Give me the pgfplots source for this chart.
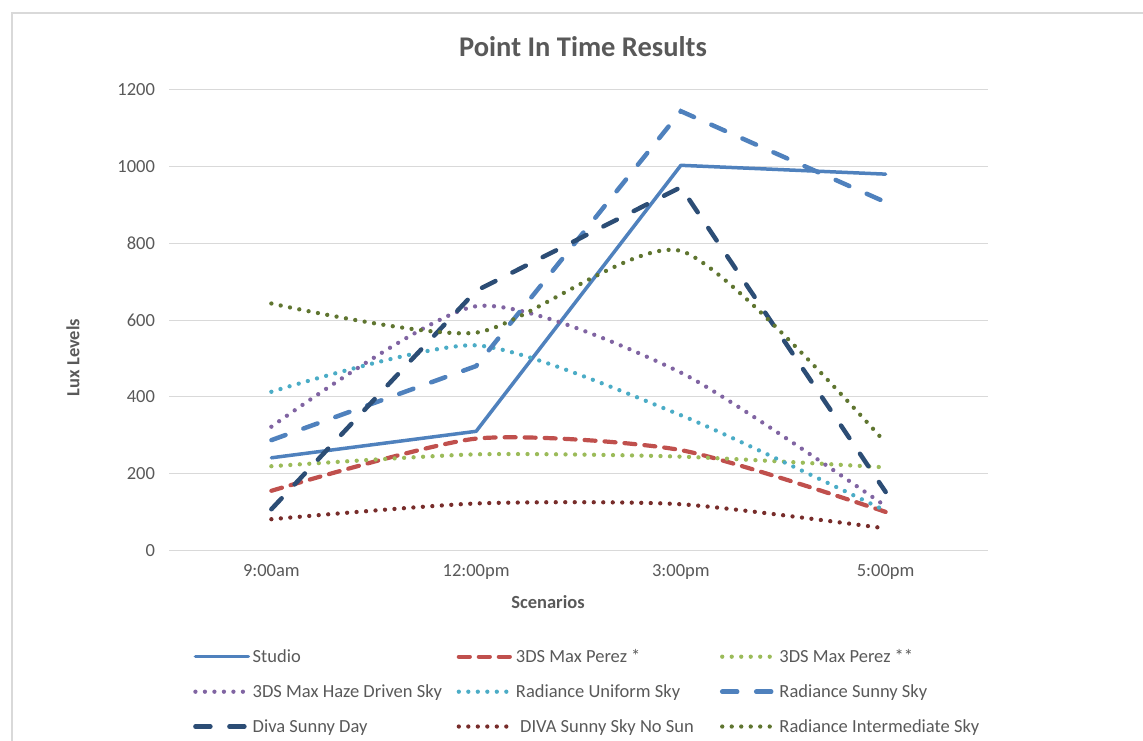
\documentclass[border=0pt]{standalone}
\usepackage{pgfplots}
\pgfplotsset{compat=1.18}
\usepackage{fontspec}
\setmainfont{Carlito}
\definecolor{cStudio}{HTML}{4F81BD}
\definecolor{cPerezA}{HTML}{C0504D}
\definecolor{cPerezB}{HTML}{9BBB59}
\definecolor{cHaze}{HTML}{8064A2}
\definecolor{cUniform}{HTML}{4BACC6}
\definecolor{cRadSunny}{HTML}{4F81BD}
\definecolor{cDiva}{HTML}{2C4D75}
\definecolor{cNoSun}{HTML}{772C2A}
\definecolor{cInter}{HTML}{5F7530}
\definecolor{gridgray}{HTML}{D9D9D9}
\definecolor{labgray}{HTML}{595959}
\tikzset{
  solidline/.style={line width=3.5pt, line cap=round, line join=round},
  dashline/.style={line width=4.2pt, line cap=round, dash pattern=on 11pt off 9pt},
  longdash/.style={line width=4.5pt, line cap=round, dash pattern=on 15pt off 19pt},
  dotline/.style={line width=4.3pt, line cap=round, dash pattern=on 0pt off 9.5pt},
}
\begin{document}
\begin{tikzpicture}
\path[use as bounding box] (0pt,0pt) rectangle (1143pt,740pt);
\draw[color=gridgray, line width=1.3pt] (12pt,-20pt) -- (12pt,727pt) -- (1200pt,727pt);
\begin{axis}[
  at={(169pt,189.7pt)}, anchor=south west,
  scale only axis, width=819pt, height=460.6pt,
  xmin=-0.5, xmax=3.5, ymin=0, ymax=1200,
  xtick={0,1,2,3}, xticklabels={9:00am,12:00pm,3:00pm,5:00pm},
  ytick={0,200,...,1200},
  ymajorgrids, grid style={color=gridgray, line width=1pt},
  axis line style={draw=none},
  major tick length=0pt,
  tick label style={font=\fontsize{18.5}{22}\selectfont, text=labgray},
  /pgf/number format/assume math mode=true,
  /pgf/number format/set thousands separator={},
  yticklabel style={xshift=-10.5pt},
  xticklabel style={yshift=-11pt},
  title={Point In Time Results},
  title style={at={(0.5055,1.0797)}, anchor=center, font=\bfseries\fontsize{28.5}{33}\selectfont, text=labgray},
  xlabel={Scenarios},
  xlabel style={at={(0.4628,-0.1122)}, anchor=center, font=\bfseries\fontsize{18.5}{22}\selectfont, text=labgray},
  ylabel={Lux Levels},
  ylabel style={at={(-0.1172,0.4186)}, anchor=center, font=\bfseries\fontsize{18.5}{22}\selectfont, text=labgray},
  legend columns=3,
  legend image code/.code={\draw[#1] (0pt,0pt) -- (53pt,0pt);},
  legend style={at={(0.0256,-0.206)}, anchor=north west, draw=none, fill=none,
    font=\fontsize{18.5}{22}\selectfont, text=labgray, row sep=16.5pt,
    /tikz/every even column/.append style={column sep=0pt}},
  clip=false,
]
\addplot[solidline, cStudio] coordinates {(0,241) (1,310) (2,1003) (3,980)};
\addlegendentry{\makebox[202pt][l]{Studio}}
\addplot[dashline, cPerezA, smooth, tension=0.4] coordinates {(0,155) (1,291) (2,261) (3,100)};
\addlegendentry{\makebox[202pt][l]{3DS Max Perez *}}
\addplot[dotline, cPerezB, smooth, tension=0.4] coordinates {(0,219) (1,250) (2,244) (3,216)};
\addlegendentry{\makebox[202pt][l]{3DS Max Perez **}}
\addplot[dotline, cHaze, smooth, tension=0.4] coordinates {(0,322) (1,636) (2,463) (3,115)};
\addlegendentry{\makebox[202pt][l]{3DS Max Haze Driven Sky}}
\addplot[dotline, cUniform, smooth, tension=0.4] coordinates {(0,413) (1,534) (2,352) (3,103)};
\addlegendentry{\makebox[202pt][l]{Radiance Uniform Sky}}
\addplot[longdash, cRadSunny] coordinates {(0,287) (1,480) (2,1144) (3,907)};
\addlegendentry{\makebox[202pt][l]{Radiance Sunny Sky}}
\addplot[longdash, cDiva] coordinates {(0,107) (1,676) (2,946) (3,152)};
\addlegendentry{\makebox[202pt][l]{Diva Sunny Day}}
\addplot[dotline, cNoSun, smooth, tension=0.4] coordinates {(0,81) (1,122) (2,120) (3,57)};
\addlegendentry{\makebox[202pt][l]{\ DIVA Sunny Sky No Sun}}
\addplot[dotline, cInter, smooth, tension=0.4] coordinates {(0,643) (1,567) (2,780) (3,280)};
\addlegendentry{\makebox[202pt][l]{Radiance Intermediate Sky}}
\end{axis}
\end{tikzpicture}
\end{document}
